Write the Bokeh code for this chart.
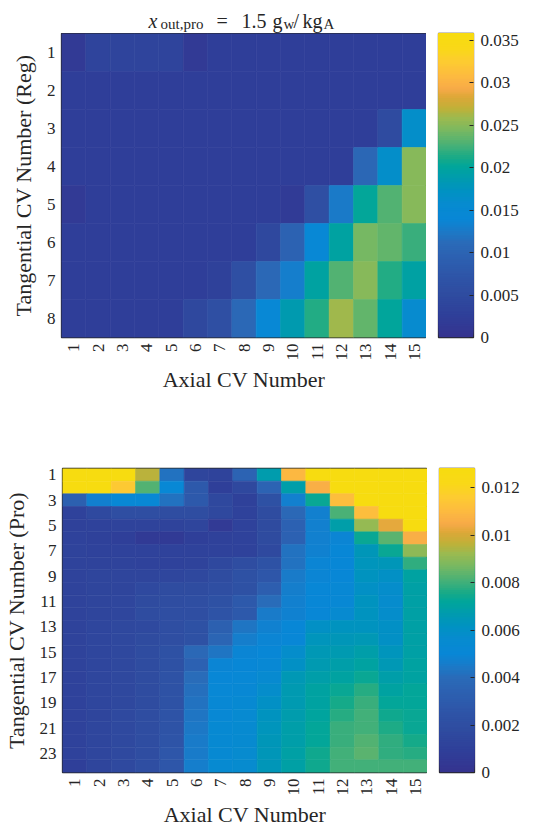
import numpy as np
from bokeh.plotting import figure
from bokeh.models import (ColumnDataSource, LinearColorMapper, FixedTicker, Range1d)
from bokeh.layouts import column, row
from bokeh.embed import file_html
from bokeh.resources import INLINE
from bokeh.transform import transform

# ---------------- data ----------------
axial_cv = list(range(1, 16))
tang_reg = list(range(1, 9))
tang_pro = list(range(1, 25))

reg_values = [
    [0.0014, 0.0036, 0.0036, 0.0036, 0.0036, 0.0014, 0.0025, 0.0025, 0.0025, 0.0025, 0.0025, 0.0025, 0.0025, 0.0025, 0.0025],
    [0.0025, 0.0025, 0.0025, 0.0025, 0.0025, 0.0025, 0.0025, 0.0025, 0.0025, 0.0025, 0.0025, 0.0025, 0.0025, 0.0025, 0.0025],
    [0.0025, 0.0025, 0.0025, 0.0025, 0.0025, 0.0025, 0.0025, 0.0025, 0.0025, 0.0025, 0.0025, 0.0025, 0.0025, 0.005, 0.0165],
    [0.0025, 0.0025, 0.0025, 0.0025, 0.0025, 0.0025, 0.0025, 0.0025, 0.0025, 0.0025, 0.0025, 0.0025, 0.0104, 0.0165, 0.025],
    [0.0014, 0.0025, 0.0025, 0.0025, 0.0025, 0.0025, 0.0025, 0.0025, 0.0025, 0.0018, 0.006, 0.0125, 0.0202, 0.023, 0.025],
    [0.0025, 0.0025, 0.0025, 0.0025, 0.0025, 0.0025, 0.0025, 0.0025, 0.0043, 0.0097, 0.0143, 0.0197, 0.0243, 0.0236, 0.0222],
    [0.0025, 0.0025, 0.0025, 0.0025, 0.0025, 0.0025, 0.003, 0.006, 0.0107, 0.0129, 0.0197, 0.023, 0.025, 0.0215, 0.0195],
    [0.0025, 0.0025, 0.0025, 0.0025, 0.0025, 0.0043, 0.006, 0.0107, 0.0143, 0.0186, 0.0215, 0.026, 0.0236, 0.02, 0.0158],
]

pro_values = [
    [0.013, 0.013, 0.013, 0.0096, 0.0042, 0.0013, 0.0012, 0.0035, 0.0067, 0.0109, 0.013, 0.013, 0.013, 0.013, 0.013],
    [0.013, 0.013, 0.0115, 0.0082, 0.0051, 0.0028, 0.0009, 0.0015, 0.0035, 0.0068, 0.0106, 0.013, 0.013, 0.013, 0.013],
    [0.0033, 0.0047, 0.0051, 0.0051, 0.0042, 0.0028, 0.0015, 0.001, 0.0022, 0.0047, 0.0073, 0.0111, 0.013, 0.013, 0.013],
    [0.0011, 0.0016, 0.002, 0.002, 0.0019, 0.0019, 0.0015, 0.0011, 0.0018, 0.0038, 0.0047, 0.0081, 0.0111, 0.013, 0.013],
    [0.001, 0.0011, 0.0012, 0.0012, 0.0012, 0.0013, 0.0005, 0.0011, 0.0017, 0.0034, 0.0047, 0.0068, 0.0091, 0.0102, 0.013],
    [0.0011, 0.001, 0.0009, 0.0006, 0.0006, 0.0009, 0.001, 0.0011, 0.0017, 0.0034, 0.0047, 0.0049, 0.0073, 0.0083, 0.0106],
    [0.0012, 0.0011, 0.0011, 0.0011, 0.0011, 0.0011, 0.0011, 0.0011, 0.0016, 0.0042, 0.0048, 0.005, 0.0064, 0.0073, 0.009],
    [0.0012, 0.0012, 0.0012, 0.0011, 0.0011, 0.0012, 0.0015, 0.0019, 0.0023, 0.0042, 0.0049, 0.005, 0.0063, 0.0064, 0.0078],
    [0.0012, 0.0013, 0.0013, 0.0013, 0.0014, 0.0015, 0.0018, 0.0022, 0.0026, 0.0045, 0.0049, 0.005, 0.0062, 0.006, 0.007],
    [0.0012, 0.0013, 0.0013, 0.0016, 0.0018, 0.0018, 0.002, 0.0022, 0.0032, 0.0046, 0.005, 0.0052, 0.006, 0.0058, 0.0069],
    [0.0012, 0.0013, 0.0014, 0.0017, 0.0019, 0.002, 0.0022, 0.0028, 0.004, 0.0047, 0.005, 0.0052, 0.0062, 0.0057, 0.0069],
    [0.0012, 0.0013, 0.0014, 0.0018, 0.002, 0.002, 0.0024, 0.0029, 0.0045, 0.0048, 0.005, 0.0055, 0.0062, 0.0058, 0.0069],
    [0.0012, 0.0014, 0.0015, 0.0016, 0.002, 0.0022, 0.0033, 0.0043, 0.0048, 0.005, 0.006, 0.0062, 0.0062, 0.006, 0.0069],
    [0.0012, 0.0014, 0.0015, 0.0017, 0.002, 0.0022, 0.0036, 0.0046, 0.0049, 0.005, 0.0063, 0.0064, 0.0065, 0.006, 0.0069],
    [0.0012, 0.0014, 0.0015, 0.0018, 0.0022, 0.0038, 0.0043, 0.0049, 0.005, 0.0058, 0.0065, 0.0066, 0.0068, 0.0063, 0.0069],
    [0.0012, 0.0014, 0.0015, 0.0018, 0.0022, 0.0034, 0.0049, 0.005, 0.0052, 0.006, 0.0066, 0.0068, 0.007, 0.0065, 0.007],
    [0.0011, 0.0014, 0.0015, 0.0018, 0.0023, 0.004, 0.005, 0.0051, 0.0055, 0.0065, 0.0068, 0.007, 0.0073, 0.0068, 0.007],
    [0.0011, 0.0014, 0.0015, 0.0018, 0.0023, 0.0041, 0.0051, 0.0052, 0.0058, 0.0066, 0.007, 0.0073, 0.0077, 0.007, 0.0072],
    [0.0011, 0.0014, 0.0015, 0.0018, 0.0023, 0.0042, 0.0052, 0.0053, 0.006, 0.0066, 0.007, 0.0075, 0.0079, 0.0072, 0.0072],
    [0.0011, 0.0013, 0.0016, 0.0019, 0.0024, 0.0043, 0.0052, 0.0054, 0.0062, 0.0067, 0.0071, 0.0077, 0.008, 0.0074, 0.0073],
    [0.0011, 0.0014, 0.0016, 0.0019, 0.0024, 0.0044, 0.0053, 0.0055, 0.0063, 0.0068, 0.0072, 0.0079, 0.008, 0.0076, 0.0073],
    [0.0011, 0.0014, 0.0016, 0.0019, 0.0025, 0.0045, 0.0053, 0.0055, 0.0064, 0.0068, 0.0072, 0.0079, 0.0082, 0.0078, 0.0075],
    [0.0011, 0.0014, 0.0016, 0.0019, 0.0026, 0.0045, 0.0053, 0.0056, 0.0064, 0.0069, 0.0074, 0.008, 0.0083, 0.0078, 0.0077],
    [0.0009, 0.0013, 0.0016, 0.002, 0.0026, 0.0046, 0.0054, 0.0056, 0.0064, 0.0069, 0.0074, 0.008, 0.008, 0.008, 0.008],
]

reg_clim = [0.0, 0.0358]
pro_clim = [0.0, 0.0128]

reg_cbar_ticks = [0.0, 0.005, 0.01, 0.015, 0.02, 0.025, 0.03, 0.035]
reg_cbar_labels = ["0", "0.005", "0.01", "0.015", "0.02", "0.025", "0.03", "0.035"]
pro_cbar_ticks = [0.0, 0.002, 0.004, 0.006, 0.008, 0.01, 0.012]
pro_cbar_labels = ["0", "0.002", "0.004", "0.006", "0.008", "0.01", "0.012"]

reg_yticks = list(range(1, 9))
pro_yticks = list(range(1, 25, 2))
x_label = "Axial CV Number"
reg_ylabel = "Tangential CV Number (Reg)"
pro_ylabel = "Tangential CV Number (Pro)"

title_texts = ["x", "out,pro", "=", "1.5", "g", "w", "/", "kg", "A"]

# ---------------- style ----------------
# parula-like colormap (as it appears in the reference), anchors: (fraction, colour)
CMAP_ANCHORS = [
    (0.00, "#35338f"), (0.07, "#2f3f99"), (0.13, "#2f4a9f"), (0.20, "#2e55a8"),
    (0.27, "#2c62b2"), (0.31, "#2a6bb8"), (0.35, "#1a7ac8"), (0.39, "#0887d6"),
    (0.44, "#078bcf"), (0.48, "#0092c2"), (0.52, "#009ab0"), (0.56, "#00a59c"),
    (0.59, "#16aa88"), (0.63, "#45b078"), (0.68, "#78b862"), (0.72, "#9aba50"),
    (0.755, "#c0b038"), (0.79, "#dca838"), (0.82, "#f8aa48"), (0.86, "#fdba40"),
    (0.91, "#fdcc30"), (0.95, "#f9d818"), (1.00, "#f7dc10"),
]


def build_palette(anchors, n=256):
    fr = np.array([a[0] for a in anchors])
    rgb = np.array([[int(h[i:i + 2], 16) for i in (1, 3, 5)] for _, h in anchors], float)
    t = np.linspace(0, 1, n)
    out = []
    for tt in t:
        c = [np.interp(tt, fr, rgb[:, k]) for k in range(3)]
        out.append("#%02x%02x%02x" % tuple(int(round(v)) for v in c))
    return out


PALETTE = build_palette(CMAP_ANCHORS)
FONT = "Liberation Serif"
DARK = "#262626"
FRAME_W, FRAME_H = 365, 304
LEFT = 61
TITLE_H = 33
FIG_W = 528


def style_axis(ax):
    ax.axis_line_color = None
    ax.major_tick_line_color = None
    ax.minor_tick_line_color = None
    ax.major_tick_in = 0
    ax.major_tick_out = 0
    ax.minor_tick_in = 0
    ax.minor_tick_out = 0
    ax.major_label_text_font = FONT
    ax.major_label_text_font_size = "17px"
    ax.major_label_text_color = DARK
    ax.axis_label_text_font = FONT
    ax.axis_label_text_font_size = "22px"
    ax.axis_label_text_font_style = "normal"
    ax.axis_label_text_color = DARK
    ax.major_label_standoff = 6


def make_heatmap(values, rows, clim, ylabel, yticks, top, bottom):
    nrows = len(rows)
    xs, ys, vs = [], [], []
    for i, r in enumerate(rows):
        for j, c in enumerate(axial_cv):
            xs.append(c)
            ys.append(r)
            vs.append(values[i][j])
    src = ColumnDataSource(dict(x=xs, y=ys, v=vs))
    mapper = LinearColorMapper(palette=PALETTE, low=clim[0], high=clim[1],
                               low_color=PALETTE[0], high_color=PALETTE[-1])

    p = figure(frame_width=FRAME_W, frame_height=FRAME_H,
               x_range=Range1d(0.5, len(axial_cv) + 0.5),
               y_range=Range1d(nrows + 0.5, 0.5),
               output_backend="svg", toolbar_location=None,
               min_border_left=LEFT, min_border_right=0,
               min_border_top=top, min_border_bottom=bottom,
               background_fill_color="white", border_fill_color="white")
    p.rect(x="x", y="y", width=1, height=1, source=src,
           fill_color=transform("v", mapper), line_color=transform("v", mapper),
           line_width=0.6)
    p.outline_line_color = DARK
    p.outline_line_width = 1.3
    p.grid.visible = False
    style_axis(p.xaxis[0])
    style_axis(p.yaxis[0])
    p.xaxis.ticker = FixedTicker(ticks=axial_cv)
    p.xaxis.major_label_orientation = np.pi / 2
    p.xaxis.axis_label = x_label
    p.xaxis.axis_label_standoff = 3
    p.yaxis.ticker = FixedTicker(ticks=yticks)
    p.yaxis.axis_label = ylabel
    p.yaxis.axis_label_standoff = 8
    return p, mapper


def make_colorbar(mapper, clim, cticks, clabels, top, bottom):
    n = 160
    edges = np.linspace(clim[0], clim[1], n + 1)
    # stacked bands (each runs to the top) so no seams show between them
    src = ColumnDataSource(dict(b=edges[:-1], t=np.full(n, clim[1]),
                                m=(edges[:-1] + edges[1:]) / 2))
    p = figure(frame_width=35, frame_height=FRAME_H,
               x_range=Range1d(0, 1), y_range=Range1d(clim[0], clim[1]),
               output_backend="svg", toolbar_location=None,
               y_axis_location="right", x_axis_type=None,
               min_border_left=12, min_border_right=FIG_W - LEFT - FRAME_W - 12 - 35,
               min_border_top=top, min_border_bottom=bottom,
               background_fill_color="white", border_fill_color="white")
    p.quad(left=0, right=1, bottom="b", top="t", source=src,
           fill_color=transform("m", mapper), line_color=None)
    p.outline_line_color = DARK
    p.outline_line_width = 1.3
    p.grid.visible = False
    ax = p.yaxis[0]
    style_axis(ax)
    ax.ticker = FixedTicker(ticks=cticks)
    ax.major_label_overrides = {t: l for t, l in zip(cticks, clabels)}
    ax.major_tick_line_color = DARK
    ax.major_tick_line_width = 1
    ax.major_tick_in = 4
    ax.major_tick_out = 0
    ax.major_label_standoff = 7
    return p


# title (text pieces with subscripts), drawn in its own strip above the top heatmap;
# the strip's frame is aligned with the heatmap frame, x measured in page pixels
title_left = [148, 160, 216, 241, 272, 283, 293, 302, 323]
title_base = [20, 23, 20, 20, 20, 23, 20, 20, 23]
title_size = ["20px", "15px", "20px", "20px", "20px", "15px", "20px", "20px", "15px"]
title_style = ["italic"] + ["normal"] * 8
tf = figure(frame_width=FRAME_W, frame_height=TITLE_H,
            x_range=Range1d(LEFT, LEFT + FRAME_W), y_range=Range1d(TITLE_H, 0),
            output_backend="svg", toolbar_location=None, x_axis_type=None, y_axis_type=None,
            min_border_left=LEFT, min_border_right=0, min_border_top=0, min_border_bottom=0,
            background_fill_color="white", border_fill_color="white")
tf.outline_line_color = None
tf.grid.visible = False
tf.text(x=title_left, y=title_base, text=title_texts, text_font_size=title_size,
        text_font_style=title_style, text_font=FONT, text_color=DARK,
        text_align="left", text_baseline="alphabetic")

h1, m1 = make_heatmap(reg_values, tang_reg, reg_clim, reg_ylabel, reg_yticks, top=0, bottom=80)
c1 = make_colorbar(m1, reg_clim, reg_cbar_ticks, reg_cbar_labels, top=TITLE_H, bottom=80)
h2, m2 = make_heatmap(pro_values, tang_pro, pro_clim, pro_ylabel, pro_yticks, top=51, bottom=52)
c2 = make_colorbar(m2, pro_clim, pro_cbar_ticks, pro_cbar_labels, top=51, bottom=52)

layout = column(row(column(tf, h1), c1), row(h2, c2))
open("out.html", "w").write(file_html(layout, INLINE))
